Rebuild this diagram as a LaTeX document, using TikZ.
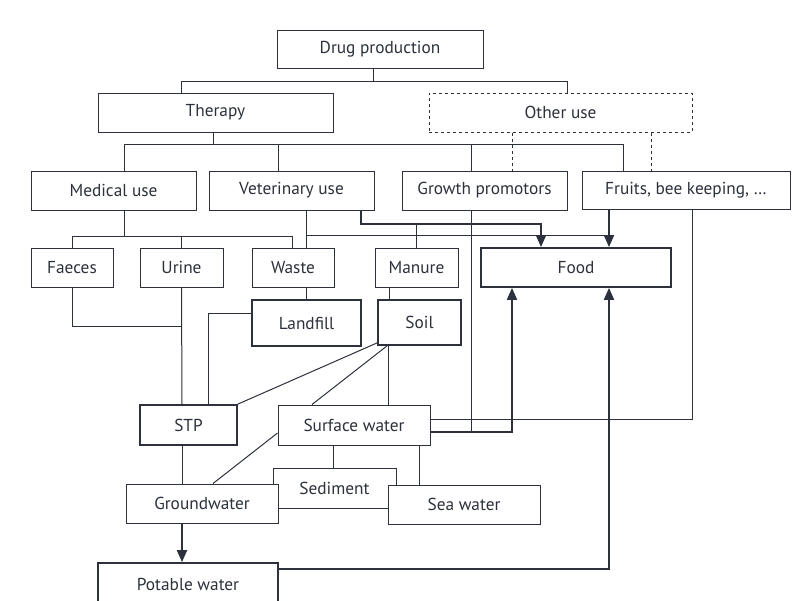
\documentclass[tikz,border=0pt]{standalone}
\usepackage{fontspec}
\setmainfont{PT Sans}
\usetikzlibrary{arrows.meta}
\definecolor{ink}{HTML}{2C313C}

\begin{document}
\begin{tikzpicture}[x=1pt, y=-1pt, color=ink, line width=1pt, font=\fontsize{17.3}{20}\selectfont,
    box/.style={draw, line width=1pt, inner sep=0pt, fill=white},
    heavybox/.style={box, line width=1.8pt},
    flow/.style={line width=2pt, -{Triangle[width=10pt,length=12pt]}}]
  \useasboundingbox (0,0) rectangle (792,600);
  \clip (0,0) rectangle (792,600);

  \node[box, minimum width=206, minimum height=38] (prod) at (380,49) {Drug production};
  \node[box, minimum width=235, minimum height=39] (therapy) at (215.5,112.5) {Therapy};
  \node[box, dashed, minimum width=263, minimum height=39] (other) at (560.5,112.5) {Other use};
  \node[box, minimum width=165, minimum height=39] (medical) at (113.5,190.5) {Medical use};
  \node[box, minimum width=165, minimum height=39] (vet) at (291.5,190.5) {Veterinary use};
  \node[box, minimum width=165, minimum height=39] (growth) at (484.5,190.5) {Growth promotors};
  \node[box, minimum width=208, minimum height=38] (fruits) at (686,190) {Fruits, bee keeping, \dots};
  \node[box, minimum width=82, minimum height=39] (faeces) at (72,267.5) {Faeces};
  \node[box, minimum width=83, minimum height=39] (urine) at (181.5,267.5) {Urine};
  \node[box, minimum width=82, minimum height=39] (waste) at (293,267.5) {Waste};
  \node[box, minimum width=83, minimum height=39] (manure) at (416.5,268) {Manure};
  \node[heavybox, minimum width=190, minimum height=39] (food) at (576,267.5) {Food};
  \node[heavybox, minimum width=109, minimum height=46] (landfill) at (306.5,323) {Landfill};
  \node[heavybox, minimum width=83, minimum height=45] (soil) at (419.5,322.5) {Soil};
  \node[heavybox, minimum width=97, minimum height=40] (stp) at (188.5,425) {STP};
  \node[box, minimum width=152, minimum height=40] (surface) at (354,425) {Surface water};
  \node[box, minimum width=123, minimum height=40] (sediment) at (334.5,488) {Sediment};
  \node[box, minimum width=152, minimum height=39] (ground) at (202,503.5) {Groundwater};
  \node[box, minimum width=152, minimum height=39] (sea) at (464,504.5) {Sea water};
  \node[heavybox, minimum width=180, minimum height=42] (potable) at (188,584) {Potable water};

  \draw ([xshift=-7]prod.south) -- ++(0,13) coordinate (j1);
  \draw ([xshift=-34.5]therapy.north) |- (j1) -| ([xshift=6.5]other.north);
  \draw ([xshift=-2.5]therapy.south) -- ++(0,12) coordinate (j2);
  \draw ([xshift=10.5]medical.north) |- (j2) -| ([xshift=-63]fruits.north);
  \draw ([xshift=-13.5]vet.north) |- (j2);
  \draw ([xshift=-13.5]growth.north) |- (j2);
  \draw[dashed] ([xshift=-48.5]other.south) -- ([xshift=27.5]growth.north);
  \draw[dashed] ([xshift=90.5]other.south) -- ([xshift=-35]fruits.north);

  \draw ([xshift=10.5]medical.south) -- ++(0,26) coordinate (j3);
  \draw (faeces.north) |- (j3) -| ([xshift=-1]waste.north);
  \draw (urine.north) |- (j3);
  \draw ([xshift=14.5]vet.south) -- ([xshift=13]waste.north) coordinate[pos=0.684] (j4);
  \draw[flow] ([xshift=69.5]vet.south) -- ++(0,13) coordinate (k1) -| ([xshift=-35]food.north);
  \draw[flow] ([xshift=-77]fruits.south) -- ([xshift=33]food.north);
  \draw (j4) -| ([xshift=-77]fruits.south);
  \draw (manure.north) |- (k1);

  \draw[flow] ([yshift=-7]surface.east) -| ([xshift=-64]food.south);
  \draw ([xshift=-13.5]growth.south) |- ([yshift=-7]surface.east);
  \draw ([xshift=6]fruits.south) |- ([yshift=6]surface.east);

  \draw (faeces.south) -- ++(0,39) -| (urine.south);
  \draw (urine.south) -- ([xshift=-6.5]stp.north);
  \draw (landfill.north |- waste.south) -- (landfill.north);
  \draw ([xshift=-27.5]manure.south) -- ([xshift=-30.5]soil.north);
  \draw ([yshift=10]landfill.west) -| ([xshift=19.5]stp.north);
  \draw ([yshift=3]soil.south west) -- (stp.north east);
  \draw ([xshift=-32.5]soil.south) -- ([xshift=-42]surface.north);
  \draw ([xshift=-31.5]soil.south) -- ([xshift=34]surface.north);

  \draw ([yshift=-8]surface.west) -- ([xshift=11]ground.north);
  \draw ([xshift=-6.5]stp.south) -- ([xshift=-20]ground.north);
  \draw ([xshift=-21]surface.south) -- ([xshift=-1.5]sediment.north);
  \draw ([xshift=65]surface.south) -- ([xshift=-45]sea.north);
  \draw[flow] ([xshift=-20]ground.south) -- ([xshift=-6]potable.north);
  \draw[flow] ([yshift=15]potable.east) -| ([xshift=33]food.south);
\end{tikzpicture}
\end{document}
